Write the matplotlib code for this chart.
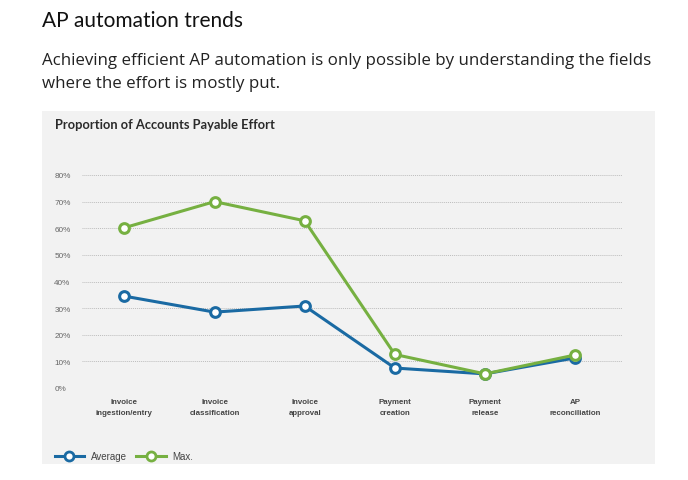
import matplotlib
matplotlib.use("Agg")
import matplotlib.pyplot as plt
from matplotlib.patches import Rectangle
from matplotlib.lines import Line2D

# ─── données ────────────────────────────────────────────────────────────────
categories = [
    "Invoice\ningestion/entry",
    "Invoice\nclassification",
    "Invoice\napproval",
    "Payment\ncreation",
    "Payment\nrelease",
    "AP\nreconciliation",
]
average = [34.5, 28.5, 30.8, 7.5, 5.3, 11.3]
maximum = [60.2, 70.0, 62.8, 12.6, 5.3, 12.4]
yticks = [0, 10, 20, 30, 40, 50, 60, 70, 80]
ytick_labels = [f"{v}%" for v in yticks]

BLUE = "#1a6aa3"
GREEN = "#76b041"
W, H = 688, 481
ARIAL = ["Liberation Sans", "DejaVu Sans"]

fig = plt.figure(figsize=(W / 100, H / 100), dpi=100)
fig.patch.set_facecolor("white")

def fx(px):
    return px / W

def fy(py):
    return 1 - py / H

# en-tête de la page
fig.text(fx(42), fy(21), "AP automation trends", fontsize=15, family="Lato",
         color="#111111", va="center", ha="left")
fig.text(fx(42), fy(61), "Achieving efficient AP automation is only possible by understanding the fields",
         fontsize=12.2, family="Open Sans", color="#222222", va="center", ha="left")
fig.text(fx(42), fy(84), "where the effort is mostly put.",
         fontsize=12.2, family="Open Sans", color="#222222", va="center", ha="left")

# carte grise
fig.patches.append(Rectangle((fx(42), fy(465)), fx(655) - fx(42), fy(112) - fy(465),
                             transform=fig.transFigure, facecolor="#f2f2f2",
                             edgecolor="none", zorder=-5))

fig.text(fx(55), fy(125), "Proportion of Accounts Payable Effort", fontsize=9.3,
         fontweight="bold", family="Lato", color="#2b2b2b", va="center", ha="left")

# axes
ax = fig.add_axes([fx(82), fy(389), fx(622) - fx(82), fy(176) - fy(389)])
ax.set_facecolor("none")
x = list(range(len(categories)))

ax.plot(x, average, color=BLUE, lw=2.2, marker="o", ms=7, mfc="white",
        mec=BLUE, mew=2.2, clip_on=False, zorder=3)
ax.plot(x, maximum, color=GREEN, lw=2.2, marker="o", ms=7, mfc="white",
        mec=GREEN, mew=2.2, clip_on=False, zorder=4)

ax.set_xlim(-0.47, 5.52)
ax.set_ylim(0, 80)
ax.set_yticks(yticks)
ax.set_yticklabels(ytick_labels)
ax.set_xticks(x)
ax.set_xticklabels(categories, fontsize=5.7, fontweight="bold", color="#444444",
                   family=ARIAL, linespacing=1.9)
ax.grid(axis="y", color="#bdbdbd", lw=0.7, linestyle=(0, (1, 1)))
ax.set_axisbelow(True)
for s in ax.spines.values():
    s.set_visible(False)
ax.tick_params(axis="both", length=0)
ax.tick_params(axis="x", pad=7)
ax.tick_params(axis="y", labelsize=5.9, labelcolor="#666666", pad=20)
for lab in ax.get_yticklabels():
    lab.set_horizontalalignment("left")
    lab.set_family(ARIAL)

# légende
handles = [
    Line2D([], [], color=BLUE, lw=2.2, marker="o", ms=6.5, mfc="white", mec=BLUE, mew=2),
    Line2D([], [], color=GREEN, lw=2.2, marker="o", ms=6.5, mfc="white", mec=GREEN, mew=2),
]
fig.legend(handles, ["Average", "Max."], loc="center left",
           bbox_to_anchor=(fx(46), fy(457)), ncol=2, frameon=False,
           prop={"family": ARIAL, "size": 7}, handlelength=3.0, handletextpad=0.7,
           columnspacing=1.0, labelcolor="#444444")

fig.savefig("out.png", dpi=100)
